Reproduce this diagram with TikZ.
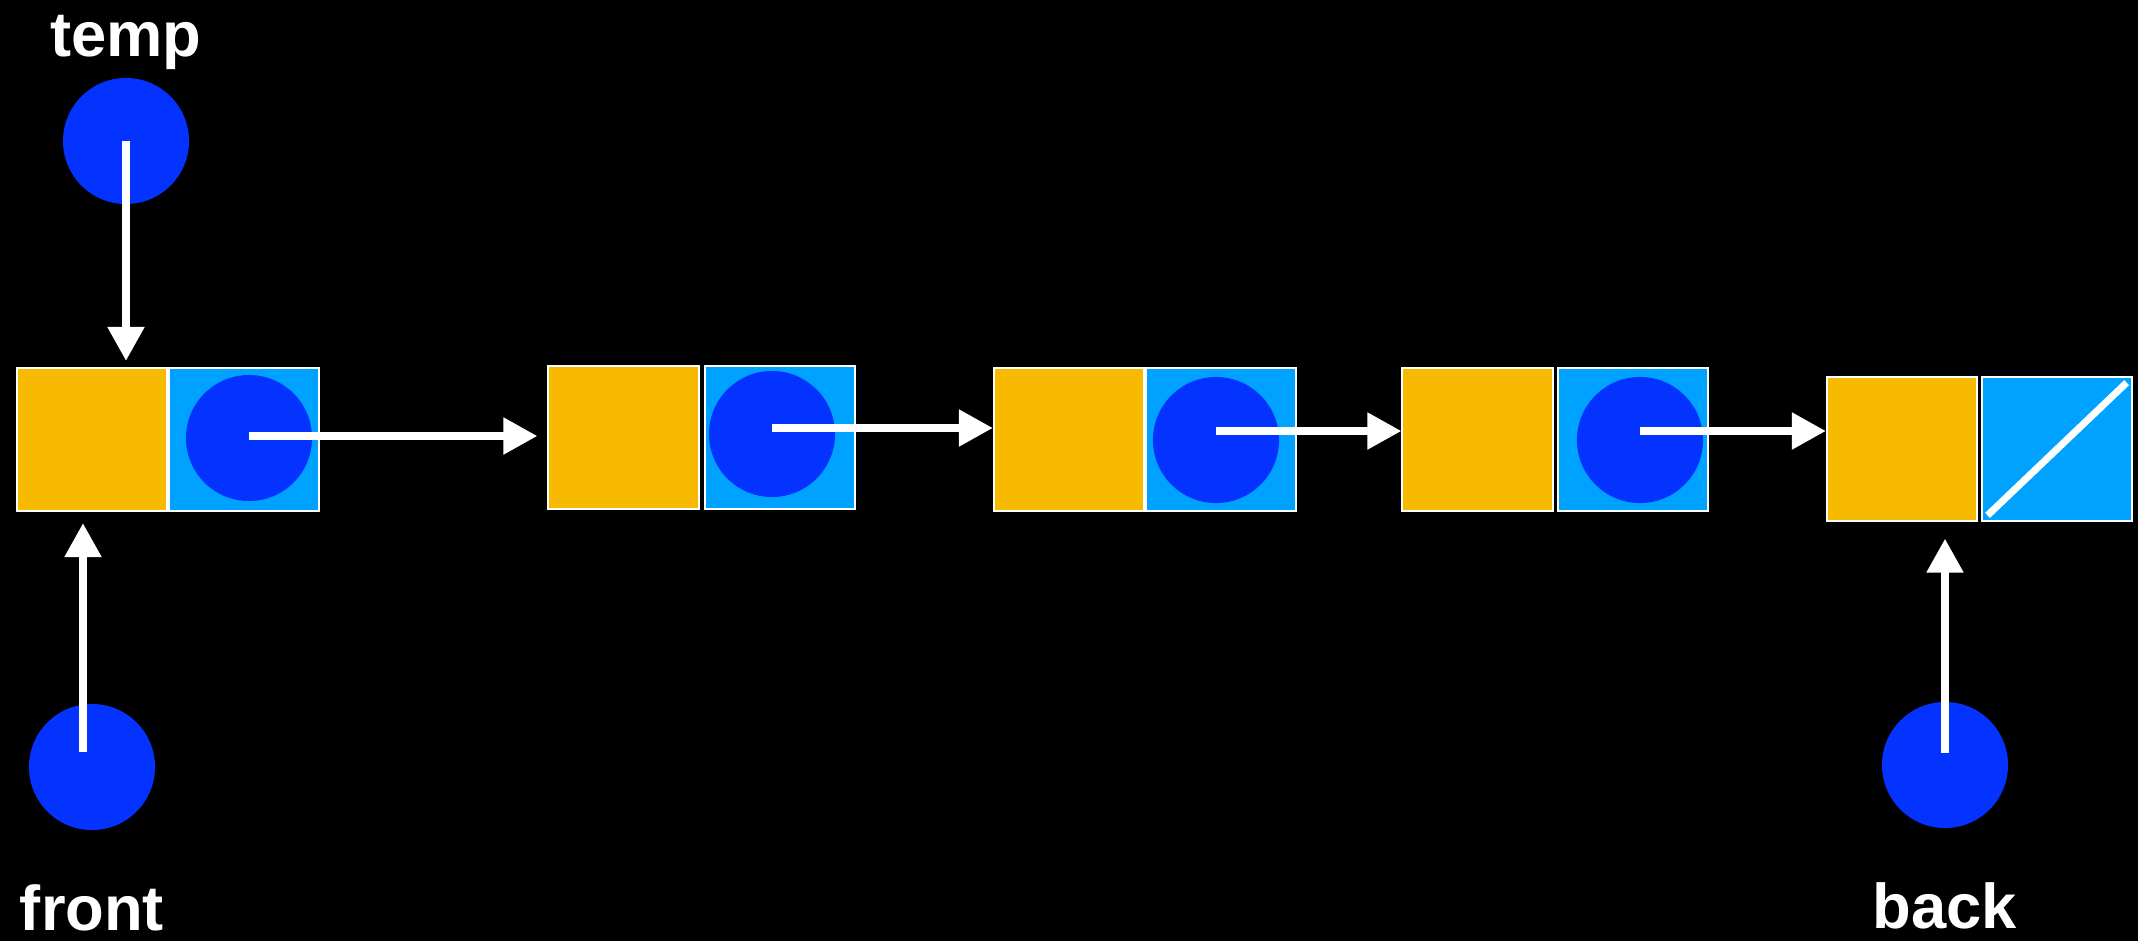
\documentclass[tikz,border=0pt]{standalone}
\usepackage{fontspec}
\setmainfont{Liberation Sans}
\usetikzlibrary{positioning,arrows.meta}
\definecolor{cellyellow}{HTML}{F7BA00}
\definecolor{cellblue}{HTML}{00A2FF}
\definecolor{ptrblue}{HTML}{0433FF}
\tikzset{
  databox/.style={rectangle, draw=white, line width=0.02cm, fill=cellyellow, minimum width=1.5cm, minimum height=1.43cm, inner sep=0pt},
  nextbox/.style={databox, fill=cellblue},
  ptrdot/.style={circle, fill=ptrblue, minimum size=1.26cm, inner sep=0pt},
  lbl/.style={text=white, font=\fontsize{18}{20}\selectfont\bfseries, anchor=base},
  arr/.style={draw=white, line width=0.08cm, -{Triangle[width=0.35cm,length=0.34cm]}}
}
\begin{document}
\begin{tikzpicture}[x=0.01cm, y=-0.01cm]
    \useasboundingbox[fill=black] (0,0) rectangle (2138,941);
    \node[databox] (d1) at (92,439.5) {};
    \node[nextbox, right=0cm of d1] (n1) {};
    \node[databox] (d2) at (623.5,437.5) {};
    \node[nextbox, right=0.04cm of d2] (n2) {};
    \node[databox] (d3) at (1069,439.5) {};
    \node[nextbox, right=0cm of d3] (n3) {};
    \node[databox] (d4) at (1477.5,439.5) {};
    \node[nextbox, right=0.03cm of d4] (n4) {};
    \node[databox] (d5) at (1902,449) {};
    \node[nextbox, right=0.03cm of d5] (n5) {};
    \node[ptrdot] (p1) at (249,438) {};
    \node[ptrdot] (p2) at (772,434) {};
    \node[ptrdot] (p3) at (1216,440) {};
    \node[ptrdot] (p4) at (1640,440) {};
    \node[ptrdot] (tp) at (126,141) {};
    \node[ptrdot] (fp) at (92,767) {};
    \node[ptrdot] (bp) at (1945,765) {};
    \node[lbl] (tl) at ([yshift=0.21cm]tp.north) {temp};
    \node[lbl] (fl) at ([yshift=-1.0cm]fp.south) {front};
    \node[lbl] (bl) at ([yshift=-1.0cm]bp.south) {back};
    \draw[arr, shorten >=0.1cm] ([yshift=0.02cm]p1.center) -- ([yshift=0.02cm]p1.center -| d2.west);
    \draw[arr] ([yshift=0.06cm]p2.center) -- ([yshift=0.06cm]p2.center -| d3.west);
    \draw[arr] ([yshift=0.09cm]p3.center) -- ([yshift=0.09cm]p3.center -| d4.west);
    \draw[arr] ([yshift=0.09cm]p4.center) -- ([yshift=0.09cm]p4.center -| d5.west);
    \draw[arr, shorten >=0.06cm] (tp.center) -- (tp.center |- d1.north);
    \draw[arr, shorten <=0.15cm, shorten >=0.11cm] ([xshift=-0.09cm]fp.center) -- ([xshift=-0.09cm]fp.center |- d1.south);
    \draw[arr, shorten <=0.12cm, shorten >=0.17cm] (bp.center) -- (bp.center |- d5.south);
    \draw[white, line width=0.07cm, shorten <=0.09cm, shorten >=0.09cm] (n5.south west) -- (n5.north east);
\end{tikzpicture}
\end{document}
